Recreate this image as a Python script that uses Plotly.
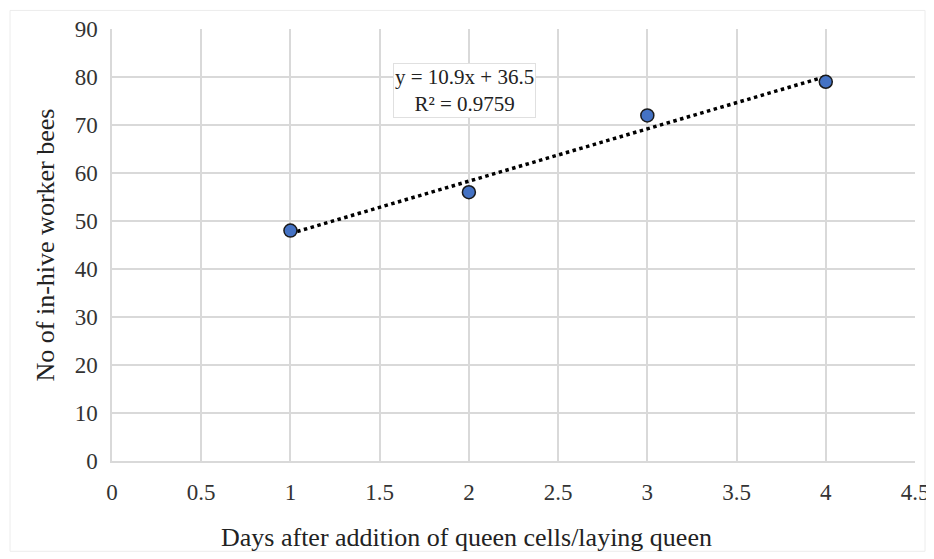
import numpy as np
import plotly.graph_objects as go

days = [1, 2, 3, 4]
bees = [48, 56, 72, 79]
x_ticks = [0, 0.5, 1, 1.5, 2, 2.5, 3, 3.5, 4, 4.5]
x_tick_labels = ["0", "0.5", "1", "1.5", "2", "2.5", "3", "3.5", "4", "4.5"]
y_ticks = [0, 10, 20, 30, 40, 50, 60, 70, 80, 90]

slope, intercept = np.polyfit(days, bees, 1)
pred = np.polyval([slope, intercept], days)
ss_res = np.sum((np.array(bees) - pred) ** 2)
ss_tot = np.sum((np.array(bees) - np.mean(bees)) ** 2)
r2 = 1 - ss_res / ss_tot
trend_x = [min(days), max(days)]
trend_y = [slope * v + intercept for v in trend_x]

font = "Liberation Serif, Times New Roman, serif"
tick_font = dict(family=font, size=23, color="#333")

fig = go.Figure()
fig.add_trace(go.Scatter(
    x=trend_x, y=trend_y, mode="lines",
    line=dict(color="black", width=3.5, dash="dot"),
    showlegend=False, hoverinfo="skip"))
fig.add_trace(go.Scatter(
    x=days, y=bees, mode="markers",
    marker=dict(size=13, color="#4472C4", line=dict(color="#1a1a1a", width=1.5)),
    showlegend=False))

fig.add_annotation(
    xref="paper", yref="paper", x=0.439, y=0.858, xanchor="center", yanchor="middle",
    text=f"y = {slope:.1f}x + {intercept:.1f}<br>R² = {r2:.4f}",
    showarrow=False, font=dict(family=font, size=21, color="#222"),
    bgcolor="white", bordercolor="#e0e0e0", borderwidth=1, borderpad=1)

fig.add_annotation(
    xref="paper", yref="paper", x=0.442, y=-0.177, xanchor="center", yanchor="middle",
    text="Days after addition of queen cells/laying queen",
    showarrow=False, font=dict(family=font, size=26, color="#222"))

fig.add_shape(type="rect", xref="paper", yref="paper", x0=-0.127, x1=1.0125, y0=-0.209, y1=1.043,
              line=dict(color="#ececec", width=1), layer="below")

fig.update_layout(
    width=934, height=559,
    margin=dict(l=104, r=27, t=21, b=106, autoexpand=False),
    paper_bgcolor="white", plot_bgcolor="white",
    font=dict(family=font, size=23, color="#333"),
    xaxis=dict(range=[0, 4.5], tickvals=x_ticks, ticktext=x_tick_labels, tickfont=tick_font,
               showgrid=True, gridcolor="#d9d9d9", gridwidth=1.5,
               showline=True, linecolor="#d9d9d9", linewidth=1.5,
               zeroline=False, ticks="", ticklabelstandoff=10),
    yaxis=dict(range=[0, 90], tickvals=y_ticks, tickfont=tick_font,
               showgrid=True, gridcolor="#d9d9d9", gridwidth=1.5,
               showline=True, linecolor="#d9d9d9", linewidth=1.5,
               zeroline=False, ticks="", ticklabelstandoff=8,
               title=dict(text="No of in-hive worker bees",
                          font=dict(family=font, size=26, color="#222"), standoff=13)),
)
fig.write_html("out.html")
